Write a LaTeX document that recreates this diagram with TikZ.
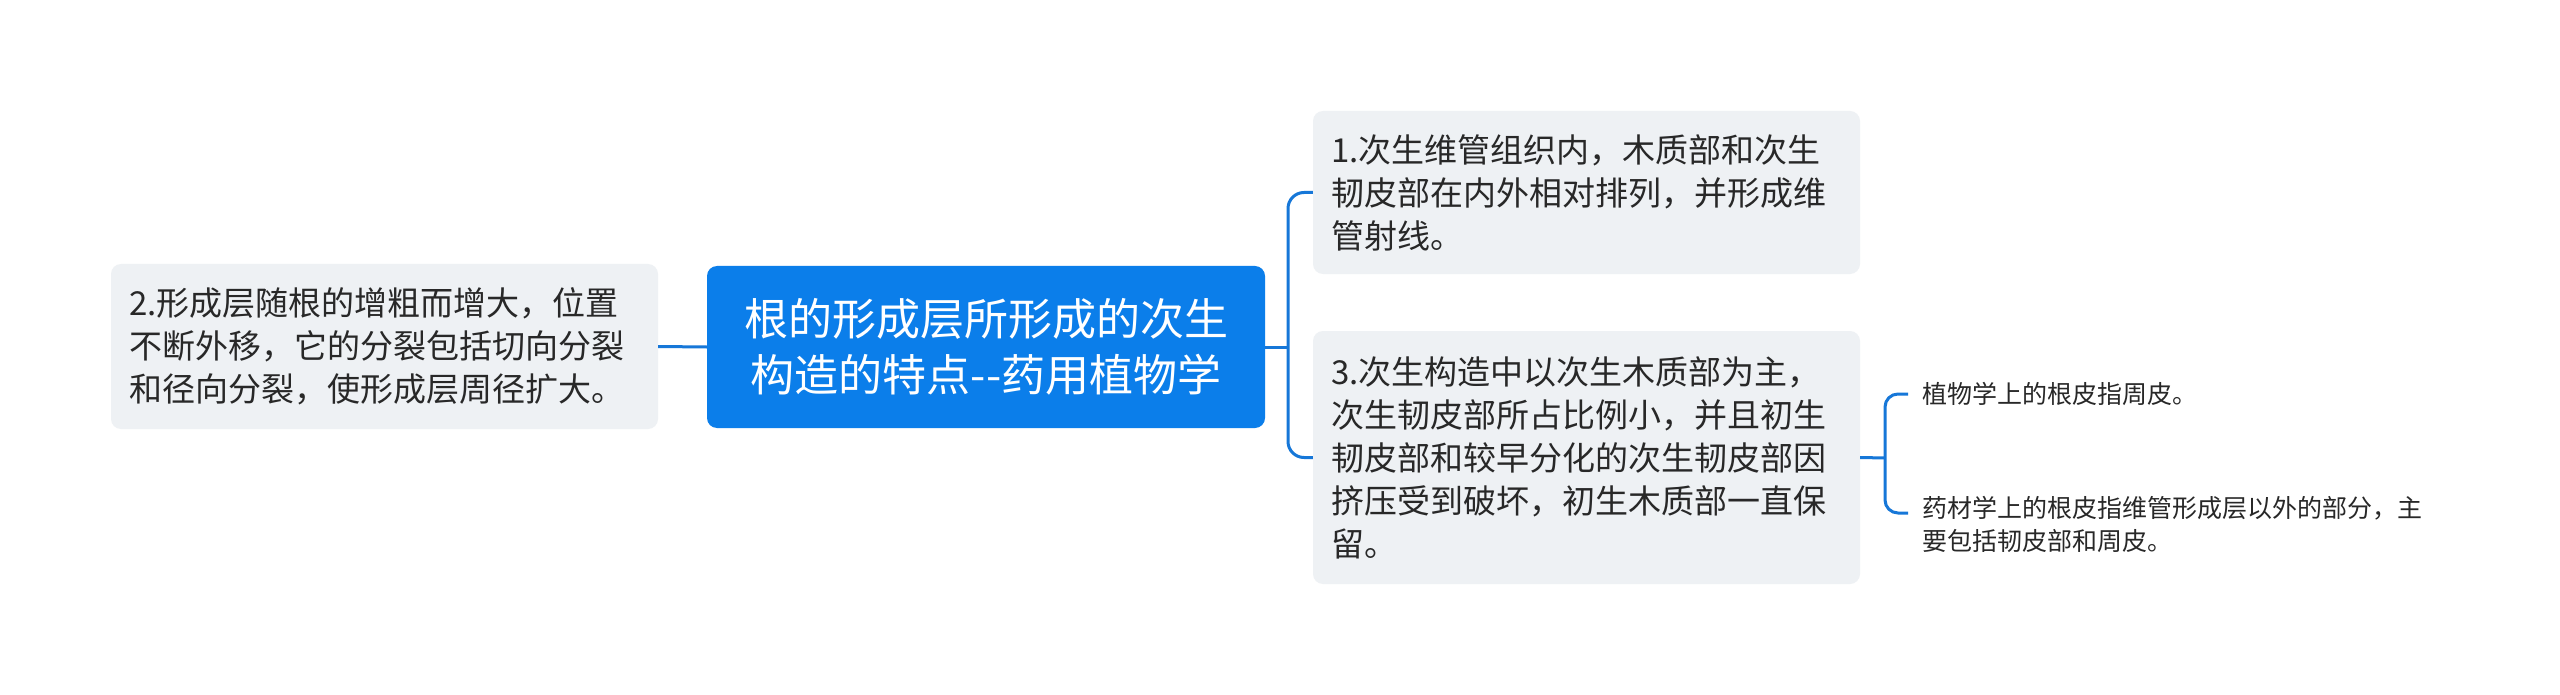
\documentclass[tikz,border=0pt]{standalone}
\usepackage{fontspec}
\setmainfont{Noto Sans CJK SC}
\definecolor{mainblue}{RGB}{11,126,234}
\definecolor{linkblue}{RGB}{22,119,216}
\definecolor{boxgray}{RGB}{238,241,244}
\definecolor{txt}{RGB}{40,40,40}
\begin{document}
\begin{tikzpicture}[x=1pt,y=-1pt,
  conn/.style={draw=linkblue,line width=3pt},
  rootbox/.style={fill=mainblue,text=white,rounded corners=10pt,minimum width=558pt,minimum height=162pt,align=center,font=\fontsize{44}{56}\selectfont,inner sep=0pt},
  leafbox/.style={fill=boxgray,text=txt,rounded corners=10pt,inner xsep=18pt,inner ysep=0pt,text width=511pt,align=left,font=\fontsize{33}{43}\selectfont},
  note/.style={text=txt,inner xsep=14pt,inner ysep=0pt,align=left,anchor=west,font=\fontsize{25}{33}\selectfont}]
\useasboundingbox (0,0) rectangle (2560,695);
\fill[white] (0,0) rectangle (2560,695);

\node[rootbox] (C) at (986,347) {根的形成层所形成的次生\\构造的特点-{}-药用植物学};
\node[leafbox,minimum height=165pt] (L) at (384.5,346.5) {2.形成层随根的增粗而增大，位置\\不断外移，它的分裂包括切向分裂\\和径向分裂，使形成层周径扩大。};
\node[leafbox,minimum height=163pt] (B1) at (1586.5,192.5) {1.次生维管组织内，木质部和次生\\韧皮部在内外相对排列，并形成维\\管射线。};
\node[leafbox,minimum height=253pt] (B3) at (1586.5,457.5) {3.次生构造中以次生木质部为主，\\次生韧皮部所占比例小，并且初生\\韧皮部和较早分化的次生韧皮部因\\挤压受到破坏，初生木质部一直保\\留。};
\node[note] (T1) at (1908,394) {植物学上的根皮指周皮。};
\node[note] (T2) at (1908,524) {药材学上的根皮指维管形成层以外的部分，主\\要包括韧皮部和周皮。};

\coordinate (b) at (1288,347);
\coordinate (s) at (1885,458);
\coordinate (t2in) at ([yshift=11pt]T2.west);

\draw[conn] (L.east) -- (C.west);
\draw[conn] (C.east) -- (b);
\draw[conn,rounded corners=16pt] (B1.west) -| (b |- B3.west) -- (B3.west);
\draw[conn] (B3.east) -- (s);
\draw[conn,rounded corners=13pt] (T1.west) -| (s |- t2in) -- (t2in);
\end{tikzpicture}
\end{document}
